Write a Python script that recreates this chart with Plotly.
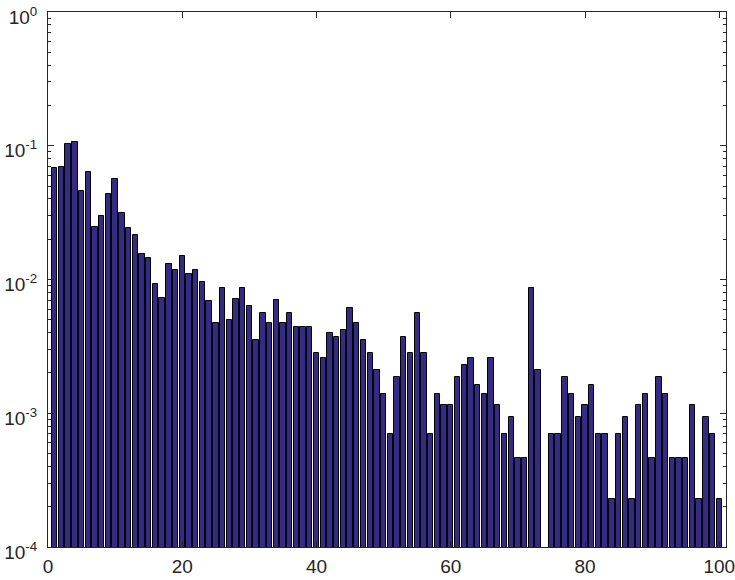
import plotly.graph_objects as go

# bin index and relative frequency (bin 74 is empty)
bins = list(range(1, 101))
freq = [
    0.068, 0.069, 0.103, 0.107, 0.046, 0.064, 0.0248, 0.0299, 0.0436, 0.0569,
    0.0316, 0.0241, 0.0215, 0.0156, 0.0146, 0.0093, 0.0073, 0.0131, 0.0118, 0.0150,
    0.0109, 0.0118, 0.0095, 0.0069, 0.0047, 0.0087, 0.0050, 0.0071, 0.0087, 0.0063,
    0.0035, 0.0056, 0.0047, 0.0070, 0.0047, 0.0056, 0.0044, 0.0044, 0.0044, 0.0028,
    0.0026, 0.0040, 0.0037, 0.0042, 0.0061, 0.0047, 0.0035, 0.0028, 0.0021, 0.0014,
    0.0007, 0.00186, 0.0037, 0.0028, 0.0056, 0.0028, 0.0007, 0.0014, 0.00116, 0.00116,
    0.00186, 0.0023, 0.0026, 0.00164, 0.0014, 0.0026, 0.00116, 0.0007, 0.00093, 0.000465,
    0.000465, 0.0087, 0.0021, None, 0.0007, 0.0007, 0.00186, 0.0014, 0.00093, 0.00116,
    0.00163, 0.0007, 0.0007, 0.00023, 0.0007, 0.00093, 0.00023, 0.00116, 0.0014, 0.000465,
    0.00186, 0.0014, 0.000465, 0.000465, 0.000465, 0.00116, 0.00023, 0.00093, 0.0007, 0.00023,
]

xticks = [0, 20, 40, 60, 80, 100]
yticks = [1e-4, 1e-3, 1e-2, 1e-1, 1]
ylabels = ["10<sup>-4</sup>", "10<sup>-3</sup>", "10<sup>-2</sup>", "10<sup>-1</sup>", "10<sup>0</sup>"]

fig = go.Figure()
fig.add_trace(go.Bar(
    x=bins, y=freq, width=0.8,
    marker=dict(color="rgb(53,42,135)", line=dict(color="black", width=1)),
))

axis_font = dict(family="Liberation Sans, Arial, sans-serif", size=19, color="#262626")

fig.update_layout(
    width=735, height=580,
    margin=dict(l=48, r=9, t=12, b=33, autoexpand=False),
    paper_bgcolor="white", plot_bgcolor="white",
    showlegend=False,
    bargap=0,
)
fig.update_xaxes(
    range=[0, 101], tickvals=xticks, ticktext=[str(v) for v in xticks],
    ticks="inside", ticklen=6, tickcolor="#262626",
    showline=True, linecolor="#262626", linewidth=1, mirror="allticks",
    showgrid=False, zeroline=False, tickfont=axis_font, automargin=False,
    ticklabelstandoff=2, ticklabeloverflow="allow",
)
fig.update_yaxes(
    type="log", range=[-4, 0], tickvals=yticks, ticktext=ylabels,
    ticks="inside", ticklen=6, tickcolor="#262626",
    showline=True, linecolor="#262626", linewidth=1, mirror="allticks",
    showgrid=False, zeroline=False, tickfont=axis_font, automargin=False,
    ticklabelstandoff=6, ticklabelshift=5, ticklabeloverflow="allow",
    minor=dict(ticks="inside", ticklen=3, tickcolor="#262626", dtick="D1", showgrid=False),
)

# drop the browser's default page margin so the figure sits at the window corner
fig.write_html(
    "out.html",
    config={"displayModeBar": False},
    post_script="document.body.style.margin='0';",
)
